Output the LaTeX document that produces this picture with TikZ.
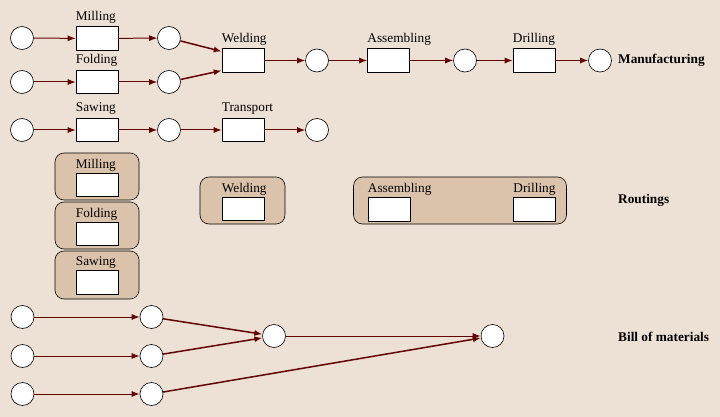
\documentclass[tikz,border=0pt]{standalone}
\usepackage{fontspec}
\setmainfont{Liberation Serif}
\usetikzlibrary{arrows.meta,calc}
\definecolor{bg}{HTML}{EDE0D4}
\definecolor{grp}{HTML}{DBC3AB}
\definecolor{arr}{HTML}{620202}
\begin{document}
\begin{tikzpicture}[x=1pt,y=-1pt,
  place/.style={circle,draw=black,fill=white,line width=0.6pt,minimum size=23pt,inner sep=0},
  trans/.style={rectangle,draw=black,fill=white,line width=0.6pt,minimum width=42pt,minimum height=23.5pt,inner sep=0},
  grpbox/.style={rectangle,rounded corners=9pt,draw=black,fill=grp,line width=0.6pt,inner sep=0},
  lbl/.style={font=\fontsize{13.3}{15}\selectfont,inner sep=0,anchor=base west},
  ttl/.style={font=\fontsize{13.3}{15}\selectfont\bfseries,inner sep=0,anchor=west},
  arc/.style={draw=arr,line width=1pt,-{Latex[length=8pt,width=6pt]}},
  darc/.style={arc,line width=1.5pt}]
\fill[bg] (0,0) rectangle (720,417);
\useasboundingbox (0,0) rectangle (720,417);
% ---------- Manufacturing ----------
\node[place] (p1) at (22,38) {};
\node[place] (p2) at (22,82) {};
\node[place] (p3) at (22,130) {};
\node[trans] (mill) at (97,38.5) {};
\node[trans] (fold) at (97,82) {};
\node[trans] (saw) at (97,130) {};
\node[place] (q1) at (169,38) {};
\node[place] (q2) at (169,82) {};
\node[place] (q3) at (169,130) {};
\node[trans] (weld) at (243,60.5) {};
\node[trans] (trsp) at (243,130) {};
\node[place] (r1) at (317,60.5) {};
\node[place] (r3) at (317,130) {};
\node[trans] (asm) at (388.5,60.5) {};
\node[place] (s1) at (465,60.5) {};
\node[trans] (drill) at (534,60.5) {};
\node[place] (t1) at (600,60.5) {};
\node[lbl] (lmill) at ($(mill.north west)+(0,-6)$) {Milling};
\node[lbl] (lfold) at ($(fold.north west)+(0,-6)$) {Folding};
\node[lbl] (lsaw) at ($(saw.north west)+(0,-6)$) {Sawing};
\node[lbl] (lweld) at ($(weld.north west)+(0,-6)$) {Welding};
\node[lbl] (ltrsp) at ($(trsp.north west)+(0,-6)$) {Transport};
\node[lbl] (lasm) at ($(asm.north west)+(0,-6)$) {Assembling};
\node[lbl] (ldrill) at ($(drill.north west)+(0,-6)$) {Drilling};
\node[ttl] (tman) at (618,60.5) {Manufacturing};
\draw[arc] (p1) -- (mill);
\draw[arc] (mill) -- (q1);
\draw[arc] (p2) -- (fold);
\draw[arc] (fold) -- (q2);
\draw[arc] (p3) -- (saw);
\draw[arc] (saw) -- (q3);
\draw[darc] (q1) -- ($(weld.north west)+(0,3)$);
\draw[darc] (q2) -- ($(weld.south west)+(0,-2)$);
\draw[arc] (weld) -- (r1);
\draw[arc] (r1) -- (asm);
\draw[arc] (asm) -- (s1);
\draw[arc] (s1) -- (drill);
\draw[arc] (drill) -- (t1);
\draw[arc] (q3) -- (trsp);
\draw[arc] (trsp) -- (r3);
% ---------- Routings ----------
\node[grpbox,minimum width=84pt,minimum height=47pt] (gmill) at (97,176.5) {};
\node[grpbox,minimum width=84pt,minimum height=47pt] (gfold) at (97,225.5) {};
\node[grpbox,minimum width=84pt,minimum height=48pt] (gsaw) at (97,275) {};
\node[grpbox,minimum width=85pt,minimum height=47pt] (gweld) at (242.5,200.5) {};
\node[grpbox,minimum width=213pt,minimum height=47pt] (gad) at (460,200.5) {};
\node[trans] (rmill) at (97,185) {};
\node[trans] (rfold) at (97,234) {};
\node[trans] (rsaw) at (97,282.5) {};
\node[trans] (rweld) at (243,209) {};
\node[trans] (rasm) at (389,209.5) {};
\node[trans] (rdrill) at (534.5,209.5) {};
\node[lbl] at ($(rmill.north west)+(0,-4.5)$) {Milling};
\node[lbl] at ($(rfold.north west)+(0,-4.5)$) {Folding};
\node[lbl] at ($(rsaw.north west)+(0,-4.5)$) {Sawing};
\node[lbl] at ($(rweld.north west)+(0,-4.5)$) {Welding};
\node[lbl] at ($(rasm.north west)+(0,-4.5)$) {Assembling};
\node[lbl] at ($(rdrill.north west)+(0,-4.5)$) {Drilling};
\node[ttl] (trout) at (618,200) {Routings};
% ---------- Bill of materials ----------
\node[place] (b1) at (22.5,317) {};
\node[place] (b2) at (22.5,356) {};
\node[place] (b3) at (22.5,394) {};
\node[place] (c1) at (151.5,317) {};
\node[place] (c2) at (151.5,356) {};
\node[place] (c3) at (151.5,394) {};
\node[place] (d1) at (274,336) {};
\node[place] (e1) at (492.5,336) {};
\node[ttl] (tbom) at (618,337) {Bill of materials};
\draw[arc] (b1) -- (c1);
\draw[arc] (b2) -- (c2);
\draw[arc] (b3) -- (c3);
\draw[darc] (c1) -- (d1);
\draw[darc] (c2) -- (d1);
\draw[darc] (c3) -- (e1);
\draw[arc] (d1) -- (e1);
\end{tikzpicture}
\end{document}
